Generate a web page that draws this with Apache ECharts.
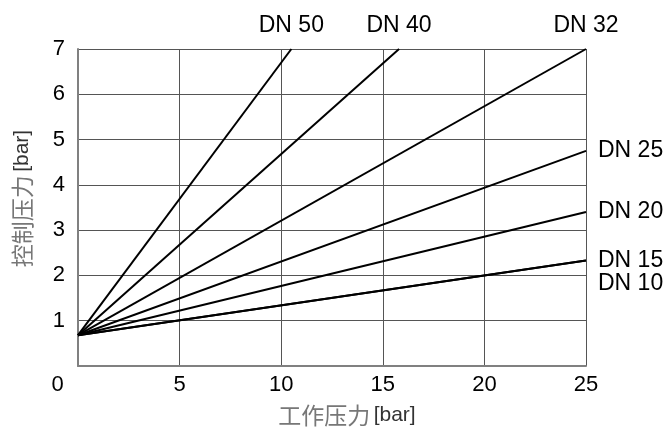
<!DOCTYPE html>
<html>
<head>
<meta charset="utf-8">
<script src="https://cdn.jsdelivr.net/npm/echarts@6/dist/echarts.min.js"></script>
<style>
    html, body { margin: 0; padding: 0; background: #fff; }
    #chart_js { width: 665px; height: 432px; }
</style>
</head>
<body>
<div id="chart_js"></div>
<script>
(function(window) {
    'use strict';

    // 数据
    var seriesNames = ['DN 50', 'DN 40', 'DN 32', 'DN 25', 'DN 20', 'DN 15', 'DN 10'];
    var startX = [0, 0, 0, 0, 0, 0, 0];
    var startY = [0.68, 0.68, 0.68, 0.68, 0.68, 0.68, 0.68];
    var endX = [10.5, 15.8, 25, 25, 25, 25, 25];
    var endY = [7, 7, 7, 4.75, 3.4, 2.33, 2.33];
    var xTicks = [0, 5, 10, 15, 20, 25];
    var yTicks = [0, 1, 2, 3, 4, 5, 6, 7];

    var labelFont = '"Liberation Sans", Arial, Helvetica, sans-serif';
    var cjkFont = '"Noto Sans CJK SC", sans-serif';

    // 标签位置：上方 / 右侧
    function endLabel(i) {
        var onTop = endY[i] === 7;
        var label = {
            show: true,
            formatter: seriesNames[i],
            fontFamily: labelFont,
            fontSize: 23,
            color: '#000'
        };
        if (onTop) {
            label.align = 'center';
            label.verticalAlign = 'bottom';
            label.distance = 0;
            label.offset = [0, -12];
        } else {
            label.align = 'left';
            label.verticalAlign = 'middle';
            label.distance = 12;
            label.offset = seriesNames[i] === 'DN 10' ? [0, 23] : [0, 0];
        }
        return label;
    }

    var series = seriesNames.map(function(name, i) {
        return {
            name: name,
            type: 'line',
            symbol: 'none',
            silent: true,
            lineStyle: { color: '#000', width: 2 },
            endLabel: endLabel(i),
            data: [[startX[i], startY[i]], [endX[i], endY[i]]]
        };
    });

    var chart = echarts.init(document.getElementById('chart_js'));
    var option = {
        animation: false,
        backgroundColor: '#fff',
        grid: { left: 78, right: 79, top: 49, bottom: 63 },
        xAxis: {
            type: 'value',
            min: xTicks[0],
            max: xTicks[xTicks.length - 1],
            interval: 5,
            name: '{c|工作压力} {b|[bar]}',
            nameLocation: 'middle',
            nameGap: 38,
            nameTextStyle: {
                padding: [0, 0, 0, 30],
                rich: {
                    c: { fontFamily: cjkFont, fontSize: 23, color: '#777' },
                    b: { fontFamily: labelFont, fontSize: 21, color: '#333' }
                }
            },
            axisLine: { show: true, lineStyle: { color: '#808080', width: 2 } },
            axisTick: { show: false },
            axisLabel: {
                margin: 8,
                fontFamily: labelFont,
                fontSize: 22,
                color: '#000',
                formatter: function(v) {
                    return v === 0 ? '{z|0}' : String(v);
                },
                rich: {
                    z: { fontFamily: labelFont, fontSize: 22, color: '#000', padding: [0, 41, 0, 0] }
                }
            },
            splitLine: { show: true, lineStyle: { color: '#555', width: 1 } }
        },
        yAxis: {
            type: 'value',
            min: yTicks[0],
            max: yTicks[yTicks.length - 1],
            interval: 1,
            name: '{c|控制压力} {b|[bar]}',
            nameLocation: 'middle',
            nameGap: 44,
            nameTextStyle: {
                padding: [0, 0, 0, 18],
                rich: {
                    c: { fontFamily: cjkFont, fontSize: 23, color: '#777' },
                    b: { fontFamily: labelFont, fontSize: 21, color: '#333' }
                }
            },
            axisLine: { show: true, lineStyle: { color: '#808080', width: 2 } },
            axisTick: { show: false },
            axisLabel: {
                margin: 13,
                fontFamily: labelFont,
                fontSize: 22,
                color: '#000',
                formatter: function(v) {
                    return v === 0 ? '' : String(v);
                }
            },
            splitLine: { show: true, lineStyle: { color: '#555', width: 1 } }
        },
        series: series
    };
    chart.setOption(option);
})(window);
</script>
</body>
</html>
